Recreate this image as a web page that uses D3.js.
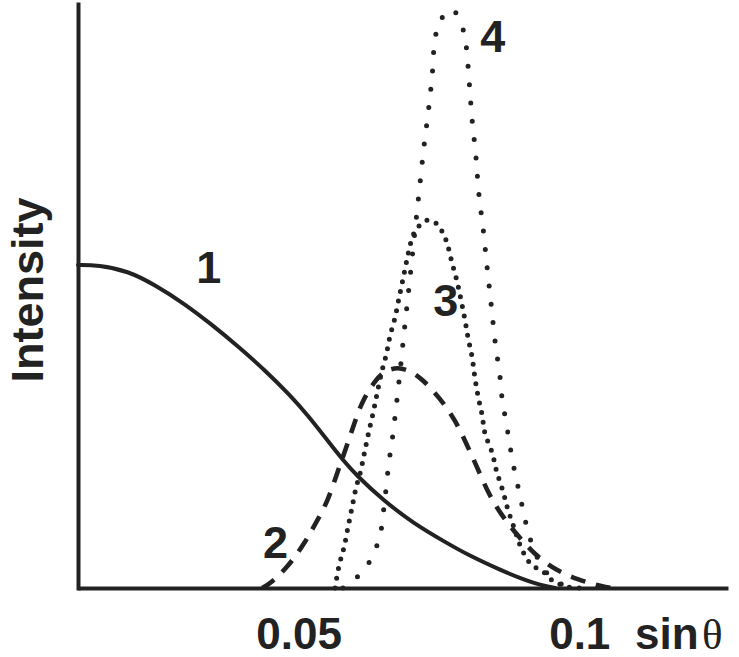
<!DOCTYPE html>
<html>
<head>
<meta charset="utf-8">
<script src="https://cdn.jsdelivr.net/npm/d3@7"></script>
<style>
  html, body { margin: 0; padding: 0; background: #fff; }
  svg { display: block; }
  text { font-family: "Liberation Sans", Arial, Helvetica, sans-serif; font-weight: bold; fill: #222; }
</style>
</head>
<body>
<svg id="chart" width="739" height="657"></svg>
<script>
// ---- data (x = sin θ, y = intensity in arbitrary units, 0-100) ----
const curve1X = [0.0107,0.0143,0.0196,0.0244,0.0298,0.0344,0.0392,0.0440,0.0486,0.0517,0.0556,0.0579,0.0604,0.0650,0.0704,0.0764,0.0805,0.0859,0.0894,0.0930,0.0957];
const curve1Y = [55.3,55.3,54.3,51.9,48.6,45.2,41.4,37.3,32.9,29.5,24.7,21.9,19.2,15.1,11.1,7.7,5.5,3.1,1.7,0.5,0];

const curve2X = [0.0435,0.0449,0.0481,0.0511,0.0533,0.0552,0.0568,0.0584,0.0599,0.0613,0.0638,0.0656,0.0677,0.0699,0.0720,0.0752,0.0779,0.0800,0.0818,0.0837,0.0859,0.0889,0.0921,0.0957,0.0998,0.1042,0.1058];
const curve2Y = [0,0.7,3.6,7.7,11.5,14.9,19.5,23.8,28.1,32.0,35.8,37.3,37.8,37.2,35.8,32.5,28.8,24.5,20.7,16.4,12.8,9.1,5.7,3.1,1.4,0.2,0];

const curve3X = [0.0565,0.0572,0.0581,0.0588,0.0595,0.0602,0.0611,0.0618,0.0625,0.0633,0.0640,0.0647,0.0656,0.0663,0.0672,0.0679,0.0686,0.0693,0.0700,0.0707,0.0718,0.0731,
                 0.0747,0.0757,0.0764,0.0773,0.0782,0.0789,0.0796,0.0802,0.0809,0.0814,0.0820,0.0827,0.0832,0.0845,0.0853,0.0864,0.0873,0.0884,0.0896,0.0912,0.0926,0.0941,0.0953,0.0969,0.0987];
const curve3Y = [0,3.8,7.0,10.4,13.7,17.0,20.2,23.5,26.7,30.1,33.4,36.6,39.9,43.2,46.4,49.7,52.9,56.2,59.2,61.0,62.3,63.0,
                 62.3,60.8,59.2,55.8,52.6,49.5,46.1,42.8,39.6,36.1,32.7,29.6,26.5,23.1,19.9,16.6,13.4,10.3,7.0,4.3,3.3,2.4,1.2,0.5,0];

const curve4X = [0.0579,0.0593,0.0617,0.0634,0.0645,0.0650,0.0654,0.0661,0.0666,0.0674,0.0681,0.0688,0.0695,0.0702,0.0709,0.0716,0.0723,0.0731,0.0738,0.0743,0.0752,0.0773,
                 0.0791,0.0798,0.0804,0.0809,0.0816,0.0821,0.0829,0.0836,0.0843,0.0850,0.0859,0.0862,0.0873,0.0878,0.0884,0.0891,0.0898,0.0905,0.0914,0.0926,0.0941,0.0959,0.0980,0.1001];
const curve4Y = [0,1.0,3.1,6.0,8.9,12.2,15.4,21.6,24.8,31.2,37.3,43.8,50.0,56.3,62.7,69.0,75.3,81.5,87.8,94.0,97.1,99.1,
                 96.2,93.2,86.6,80.3,73.8,67.6,61.3,54.8,48.6,42.3,36.0,32.9,26.5,23.5,20.4,17.3,14.2,11.1,8.0,5.1,2.7,1.2,0.2,0];

const tickValues = [0.05, 0.1];
const tickLabels = ["0.05", "0.1"];
const curveLabels = ["1", "2", "3", "4"];
const labelX = [0.0340, 0.0459, 0.0762, 0.0846];
const labelY = [52.3, 5.1, 46.6, 91.8];

// ---- drawing ----
const svg = d3.select("#chart");
const x = d3.scaleLinear().domain([0.0107, 0.1265]).range([78, 728]);
const y = d3.scaleLinear().domain([0, 100]).range([588, 4]);
const ink = "#222";

const zip = (a, b) => a.map((v, i) => [v, b[i]]);
const mkLine = c => d3.line().x(d => x(d[0])).y(d => y(d[1])).curve(c);

const series = [
  { pts: zip(curve1X, curve1Y), curve: d3.curveBasis, dash: null, cap: "round", w: 4 },
  { pts: zip(curve2X, curve2Y), curve: d3.curveBasis, dash: "15,11", cap: "butt", w: 4.6 },
  { pts: zip(curve3X, curve3Y), curve: d3.curveCatmullRom.alpha(0.5), dash: "0,9.8", cap: "round", w: 5 },
  { pts: zip(curve4X, curve4Y), curve: d3.curveCatmullRom.alpha(0.5), dash: "0,18.4", cap: "round", w: 5 }
];

svg.selectAll("path.curve").data(series).join("path")
  .attr("class", "curve")
  .attr("d", s => mkLine(s.curve)(s.pts))
  .attr("fill", "none")
  .attr("stroke", ink)
  .attr("stroke-width", s => s.w)
  .attr("stroke-linecap", s => s.cap)
  .attr("stroke-dasharray", s => s.dash);

// axes
const xAxis = d3.axisBottom(x).tickValues(tickValues)
  .tickFormat((d, i) => tickLabels[i]).tickSize(0).tickSizeOuter(0).tickPadding(30);
const gx = svg.append("g").attr("transform", "translate(0,588)").call(xAxis);
gx.select(".domain").attr("stroke", ink).attr("stroke-width", 4);
gx.selectAll("text").attr("font-size", 44).attr("font-family", "Liberation Sans, Arial, sans-serif")
  .attr("font-weight", "bold").attr("fill", ink);

const yAxis = d3.axisLeft(y).tickValues([]).tickSize(0).tickSizeOuter(0);
const gy = svg.append("g").attr("transform", "translate(78,0)").call(yAxis);
gy.select(".domain").attr("stroke", ink).attr("stroke-width", 4).attr("stroke-linecap", "square");

// axis titles
svg.append("text").attr("x", 635).attr("y", 649).attr("font-size", 44).text("sin");
svg.append("text").attr("x", 702).attr("y", 649).attr("font-size", 43)
  .style("font-family", "'Liberation Serif', 'Times New Roman', serif").style("font-weight", "normal")
  .text("θ");
svg.append("text").attr("transform", "translate(43,290) rotate(-90)")
  .attr("text-anchor", "middle").attr("font-size", 45).text("Intensity");

// curve labels
svg.selectAll("text.clabel").data(curveLabels).join("text")
  .attr("class", "clabel")
  .attr("x", (d, i) => x(labelX[i])).attr("y", (d, i) => y(labelY[i]))
  .attr("text-anchor", "middle").attr("font-size", 45).text(d => d);
</script>
</body>
</html>
